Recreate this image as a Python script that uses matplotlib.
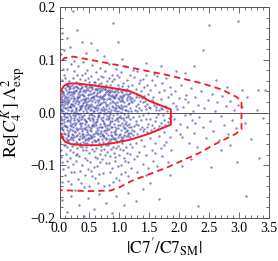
import matplotlib
matplotlib.use("Agg")
import matplotlib.pyplot as plt
from matplotlib.ticker import MultipleLocator, FuncFormatter

# ---- scan points (x = |C7'/C7_SM|, y = Re[C4^K] Lambda^2) ----
core_pts = [
    (0.01, 0.012), (0.03, -0.021), (0.05, 0.004), (0.07, 0.026), (0.02, -0.038), (0.08, -0.012), (0.04, 0.019),
    (0.06, -0.033), (0.09, 0.008), (0.01, -0.006), (0.03, 0.027), (0.05, -0.044), (0.07, -0.002), (0.02, 0.015),
    (0.08, 0.033), (0.04, -0.027), (0.06, 0.011), (0.09, -0.041), (0.01, 0.024), (0.03, -0.009), (0.05, 0.031),
    (0.07, -0.018), (0.02, 0.002), (0.08, 0.021), (0.04, -0.015), (0.06, 0.037), (0.09, -0.025), (0.02, -0.029),
    (0.05, 0.017), (0.08, -0.006), (0.03, 0.006), (0.06, -0.047), (0.09, 0.029), (0.04, 0.041), (0.07, 0.014),
    (0.11, 0.042), (0.13, -0.017), (0.15, 0.005), (0.17, -0.051), (0.19, 0.028), (0.12, -0.034), (0.14, 0.019),
    (0.16, -0.003), (0.18, 0.047), (0.11, -0.026), (0.13, 0.035), (0.15, -0.044), (0.17, 0.012), (0.19, -0.011),
    (0.12, 0.051), (0.14, -0.056), (0.16, 0.024), (0.18, -0.031), (0.11, 0.008), (0.13, -0.008), (0.15, 0.039),
    (0.17, -0.023), (0.19, 0.003), (0.12, 0.016), (0.14, -0.039), (0.16, 0.044), (0.18, 0.010), (0.11, -0.048),
    (0.13, 0.026), (0.15, -0.014), (0.17, 0.033), (0.19, -0.046), (0.12, -0.001), (0.14, 0.029), (0.16, -0.035),
    (0.18, -0.018), (0.13, 0.053), (0.15, 0.020), (0.17, -0.006), (0.19, 0.038),
    (0.21, -0.022), (0.23, 0.031), (0.25, -0.047), (0.27, 0.009), (0.29, -0.012), (0.22, 0.046), (0.24, -0.036),
    (0.26, 0.018), (0.28, -0.055), (0.21, 0.004), (0.23, -0.028), (0.25, 0.040), (0.27, -0.019), (0.29, 0.025),
    (0.22, -0.042), (0.24, 0.013), (0.26, -0.007), (0.28, 0.051), (0.21, 0.035), (0.23, -0.053), (0.25, 0.001),
    (0.27, 0.043), (0.29, -0.033), (0.22, 0.021), (0.24, -0.015), (0.26, -0.059), (0.28, 0.007), (0.21, -0.040),
    (0.23, 0.015), (0.25, 0.027), (0.27, -0.030), (0.29, 0.048), (0.22, -0.004), (0.24, 0.037), (0.26, -0.024),
    (0.28, -0.045), (0.21, 0.052), (0.25, -0.010), (0.27, 0.022), (0.29, 0.000),
    (0.31, 0.017), (0.33, -0.038), (0.35, 0.041), (0.37, -0.009), (0.39, 0.026), (0.32, -0.050), (0.34, 0.006),
    (0.36, -0.026), (0.38, 0.049), (0.31, -0.017), (0.33, 0.030), (0.35, -0.057), (0.37, 0.014), (0.39, -0.041),
    (0.32, 0.038), (0.34, -0.003), (0.36, 0.023), (0.38, -0.031), (0.31, 0.046), (0.33, -0.014), (0.35, 0.010),
    (0.37, -0.048), (0.39, 0.002), (0.32, 0.019), (0.34, -0.045), (0.36, 0.052), (0.38, -0.020), (0.31, -0.032),
    (0.33, 0.004), (0.35, -0.022), (0.37, 0.035), (0.39, -0.055), (0.32, -0.008), (0.34, 0.044), (0.36, -0.013),
    (0.38, 0.012), (0.31, 0.029), (0.35, 0.033), (0.37, -0.036), (0.39, 0.018),
    (0.41, -0.005), (0.43, 0.039), (0.45, -0.043), (0.47, 0.011), (0.49, -0.027), (0.42, 0.024), (0.44, -0.018),
    (0.46, 0.047), (0.48, -0.052), (0.41, 0.032), (0.43, -0.031), (0.45, 0.005), (0.47, -0.011), (0.49, 0.036),
    (0.42, -0.058), (0.44, 0.015), (0.46, -0.037), (0.48, 0.021), (0.41, -0.046), (0.43, 0.008), (0.45, 0.028),
    (0.47, -0.024), (0.49, 0.049), (0.42, -0.014), (0.44, 0.042), (0.46, 0.001), (0.48, -0.040), (0.41, 0.019),
    (0.43, -0.053), (0.45, -0.016), (0.47, 0.034), (0.49, -0.004), (0.42, 0.051), (0.44, -0.028), (0.46, 0.017),
    (0.48, 0.009), (0.43, 0.026), (0.47, -0.049),
    (0.51, 0.013), (0.53, -0.035), (0.55, 0.044), (0.57, -0.007), (0.59, 0.020), (0.52, -0.049), (0.54, 0.030),
    (0.56, -0.021), (0.58, 0.002), (0.51, -0.015), (0.53, 0.048), (0.55, -0.056), (0.57, 0.025), (0.59, -0.038),
    (0.52, 0.007), (0.54, -0.010), (0.56, 0.037), (0.58, -0.044), (0.51, 0.040), (0.53, 0.016), (0.55, -0.026),
    (0.57, -0.052), (0.59, 0.045), (0.52, -0.030), (0.54, 0.022), (0.56, 0.003), (0.58, 0.031), (0.51, -0.042),
    (0.53, -0.002), (0.55, 0.012), (0.57, 0.039), (0.59, -0.019), (0.52, 0.027), (0.54, -0.047), (0.56, -0.012),
    (0.58, -0.025),
    (0.61, 0.034), (0.63, -0.016), (0.65, 0.009), (0.67, -0.045), (0.69, 0.027), (0.62, -0.029), (0.64, 0.046),
    (0.66, -0.004), (0.68, 0.016), (0.61, -0.054), (0.63, 0.023), (0.65, -0.033), (0.67, 0.041), (0.69, -0.010),
    (0.62, 0.004), (0.64, -0.041), (0.66, 0.029), (0.68, -0.021), (0.61, 0.011), (0.63, 0.043), (0.65, -0.050),
    (0.67, 0.001), (0.69, -0.036), (0.62, 0.037), (0.64, -0.008), (0.66, -0.058), (0.68, 0.044), (0.61, -0.023),
    (0.63, -0.039), (0.65, 0.019), (0.67, 0.031), (0.69, 0.006), (0.62, -0.013), (0.66, 0.014),
    (0.71, -0.028), (0.73, 0.020), (0.75, -0.047), (0.77, 0.038), (0.79, -0.006), (0.72, 0.010), (0.74, -0.019),
    (0.76, 0.045), (0.78, -0.039), (0.71, 0.030), (0.73, -0.055), (0.75, 0.003), (0.77, -0.013), (0.79, 0.025),
    (0.72, -0.043), (0.74, 0.034), (0.76, -0.025), (0.78, 0.013), (0.71, 0.042), (0.73, -0.009), (0.75, 0.026),
    (0.77, -0.051), (0.79, 0.040), (0.72, -0.016), (0.74, 0.006), (0.76, -0.034), (0.78, -0.001), (0.71, -0.040),
    (0.73, 0.032), (0.75, -0.022), (0.77, 0.017), (0.79, -0.030),
    (0.81, 0.015), (0.83, -0.032), (0.85, 0.039), (0.87, -0.011), (0.89, -0.049), (0.82, 0.027), (0.84, -0.020),
    (0.86, 0.004), (0.88, 0.033), (0.81, -0.042), (0.83, 0.009), (0.85, -0.054), (0.87, 0.022), (0.89, 0.010),
    (0.82, -0.006), (0.84, 0.043), (0.86, -0.037), (0.88, -0.017), (0.81, 0.036), (0.83, -0.024), (0.85, 0.018),
    (0.87, -0.045), (0.89, 0.029), (0.82, -0.050), (0.84, 0.001), (0.86, 0.031), (0.88, -0.028), (0.81, -0.013),
    (0.85, -0.003), (0.87, 0.041),
    (0.91, -0.021), (0.93, 0.030), (0.95, -0.040), (0.97, 0.012), (0.99, -0.008), (0.92, 0.041), (0.94, -0.052),
    (0.96, 0.020), (0.98, -0.030), (0.91, 0.005), (0.93, -0.015), (0.95, 0.036), (0.97, -0.046), (0.99, 0.025),
    (0.92, -0.035), (0.94, 0.008), (0.96, -0.003), (0.98, 0.039), (0.91, 0.027), (0.93, -0.048), (0.95, 0.015),
    (0.97, -0.024), (0.99, -0.042), (0.92, 0.018), (0.94, 0.034), (0.96, -0.012), (0.98, 0.002), (0.91, -0.037),
    (1.01, 0.022), (1.03, -0.034), (1.05, 0.007), (1.07, -0.014), (1.09, 0.035), (1.02, -0.046), (1.04, 0.028),
    (1.06, -0.025), (1.08, 0.013), (1.01, -0.006), (1.03, 0.040), (1.05, -0.050), (1.07, 0.019), (1.09, -0.037),
    (1.02, 0.001), (1.04, -0.019), (1.06, 0.032), (1.08, -0.043), (1.01, 0.031), (1.03, -0.011), (1.05, 0.024),
    (1.07, -0.029), (1.09, 0.004), (1.04, 0.011),
    (1.11, -0.018), (1.13, 0.027), (1.15, -0.041), (1.17, 0.009), (1.19, -0.027), (1.12, 0.036), (1.14, -0.005),
    (1.16, 0.018), (1.18, -0.047), (1.11, 0.012), (1.13, -0.033), (1.15, 0.031), (1.17, -0.013), (1.19, 0.022),
    (1.12, -0.024), (1.14, 0.003), (1.16, -0.038), (1.18, 0.030), (1.11, -0.044), (1.15, -0.009),
    (1.21, 0.019), (1.24, -0.026), (1.27, 0.030), (1.30, -0.040), (1.33, 0.008), (1.22, -0.009), (1.25, 0.024),
    (1.28, -0.017), (1.31, 0.016), (1.34, -0.031), (1.23, -0.043), (1.26, 0.005), (1.29, 0.034), (1.32, -0.006),
    (1.21, -0.033), (1.27, -0.021), (1.30, 0.002), (1.34, 0.021),
    (1.36, -0.014), (1.39, 0.020), (1.42, -0.032), (1.45, 0.006), (1.48, -0.021), (1.37, 0.027), (1.40, -0.004),
    (1.43, 0.013), (1.46, -0.037), (1.49, 0.010), (1.38, -0.027), (1.41, 0.031), (1.44, -0.012), (1.47, 0.017),
    (1.52, 0.008), (1.55, -0.023), (1.58, 0.015), (1.61, -0.009), (1.64, -0.031), (1.67, 0.004), (1.53, -0.034),
    (1.56, 0.019), (1.59, -0.016), (1.62, 0.010), (1.65, -0.002), (1.69, -0.019),
    (1.71, 0.006), (1.74, -0.014), (1.77, -0.024), (1.80, 0.002), (1.83, -0.010), (1.72, -0.028), (1.78, 0.011),
    (1.86, -0.006),
]

core_pts_2 = [
    (0.005, -0.018), (0.025, 0.036), (0.045, -0.031), (0.065, 0.003), (0.085, 0.047), (0.105, -0.009),
    (0.125, -0.052), (0.145, 0.011), (0.165, 0.038), (0.185, -0.025), (0.205, 0.017), (0.225, -0.060),
    (0.245, 0.049), (0.265, -0.037), (0.285, 0.030), (0.305, -0.003), (0.325, 0.054), (0.345, -0.029),
    (0.365, 0.008), (0.385, -0.044), (0.405, 0.043), (0.425, -0.021), (0.445, 0.020), (0.465, -0.057),
    (0.485, 0.014), (0.505, -0.033), (0.525, 0.036), (0.545, -0.005), (0.565, -0.041), (0.585, 0.052),
    (0.605, -0.018), (0.625, 0.015), (0.645, -0.053), (0.665, 0.039), (0.685, -0.027), (0.705, 0.005),
    (0.725, 0.047), (0.745, -0.035), (0.765, 0.019), (0.785, -0.048), (0.805, 0.042), (0.825, -0.010),
    (0.845, 0.025), (0.865, -0.027), (0.885, 0.046), (0.905, -0.050), (0.925, 0.009), (0.945, -0.031),
    (0.965, 0.043), (0.985, -0.017), (1.005, -0.040), (1.025, 0.015), (1.045, 0.038), (1.065, -0.047),
    (1.085, -0.002), (1.105, 0.040), (1.125, -0.036), (1.145, 0.016), (1.165, -0.022), (1.185, 0.037),
    (0.015, 0.008), (0.035, -0.046), (0.055, 0.039), (0.075, -0.024), (0.095, 0.018), (0.115, 0.030),
    (0.135, -0.043), (0.155, 0.048), (0.175, -0.015), (0.195, 0.010), (0.215, -0.049), (0.235, 0.026),
    (0.255, -0.002), (0.275, 0.041), (0.295, -0.058), (0.315, 0.022), (0.335, -0.019), (0.355, 0.047),
    (0.375, -0.040), (0.395, 0.033), (0.415, -0.012), (0.435, 0.050), (0.455, -0.034), (0.475, 0.027),
    (0.495, -0.048), (0.515, 0.005), (0.535, -0.024), (0.555, 0.029), (0.575, 0.010), (0.595, -0.054),
    (0.615, 0.044), (0.635, -0.006), (0.655, 0.024), (0.675, -0.039), (0.695, 0.048), (0.715, -0.014),
    (0.735, -0.044), (0.755, 0.036), (0.775, 0.006), (0.795, -0.023), (0.815, -0.055), (0.835, 0.033),
    (0.855, -0.042), (0.875, 0.013), (0.895, -0.004), (0.915, 0.038), (0.935, -0.027), (0.955, -0.055),
    (0.975, 0.028), (0.995, 0.011), (1.015, -0.023), (1.035, 0.030), (1.055, -0.011), (1.075, 0.043),
    (1.095, -0.030), (1.115, 0.004), (1.135, 0.045), (1.155, -0.028), (1.175, 0.026), (1.195, -0.039),
    (0.008, 0.030), (0.028, -0.012), (0.048, 0.023), (0.068, -0.039), (0.088, 0.000), (0.108, 0.021),
    (0.128, -0.027), (0.148, -0.053), (0.168, 0.050), (0.188, 0.016), (0.208, -0.034), (0.228, 0.039),
    (0.248, -0.020), (0.268, 0.002), (0.288, -0.042), (0.308, 0.035), (0.328, -0.050), (0.348, 0.013),
    (0.368, -0.006), (0.388, 0.040), (0.408, -0.030), (0.428, 0.012), (0.448, -0.050), (0.468, 0.043),
    (0.488, -0.011), (0.508, 0.024), (0.528, -0.045), (0.548, 0.049), (0.568, -0.016), (0.588, 0.008),
    (0.608, -0.035), (0.628, 0.031), (0.648, -0.001), (0.668, -0.028), (0.688, 0.018), (0.708, -0.051),
    (0.728, 0.026), (0.748, -0.003), (0.768, 0.044), (0.788, -0.033), (0.808, 0.002), (0.828, 0.038),
    (0.848, -0.016), (0.868, -0.050), (0.888, 0.020), (0.908, 0.032), (0.928, -0.040), (0.948, 0.003),
    (0.968, -0.010), (0.988, 0.046), (1.008, 0.009), (1.028, -0.053), (1.048, 0.021), (1.068, 0.033),
    (1.088, -0.021), (1.108, -0.008), (1.128, 0.024), (1.148, -0.045), (1.168, 0.035), (1.188, 0.002),
    (1.215, 0.028), (1.245, -0.036), (1.275, 0.012), (1.305, -0.024), (1.335, 0.029), (1.365, 0.004),
    (1.395, -0.035), (1.425, 0.022), (1.455, -0.027), (1.485, 0.000), (1.515, -0.013), (1.545, 0.023),
    (1.575, -0.029), (1.605, 0.004), (1.635, 0.016), (1.665, -0.025), (1.695, 0.009), (1.725, -0.004),
    (1.755, 0.012), (1.815, -0.018),
]

halo_pts = [
    (0.02, 0.045), (0.05, 0.062), (0.08, 0.071), (0.12, 0.083), (0.16, 0.059), (0.19, 0.092), (0.22, 0.066),
    (0.25, 0.078), (0.28, 0.058), (0.31, 0.088), (0.34, 0.064), (0.37, 0.072), (0.40, 0.095), (0.43, 0.061),
    (0.46, 0.081), (0.49, 0.058), (0.52, 0.069), (0.55, 0.090), (0.58, 0.057), (0.61, 0.076), (0.64, 0.063),
    (0.67, 0.085), (0.70, 0.055), (0.73, 0.068), (0.76, 0.079), (0.79, 0.060), (0.82, 0.091), (0.85, 0.053),
    (0.88, 0.072), (0.91, 0.064), (0.94, 0.083), (0.97, 0.052), (1.00, 0.067), (1.03, 0.076), (1.06, 0.056),
    (1.09, 0.088), (1.12, 0.061), (1.15, 0.050), (1.18, 0.071), (0.06, 0.083), (0.14, 0.053), (0.24, 0.097),
    (0.33, 0.054), (0.42, 0.074), (0.51, 0.052), (0.60, 0.058), (0.69, 0.070), (0.78, 0.052), (0.87, 0.060),
    (0.96, 0.071), (1.04, 0.050), (0.10, 0.066), (0.29, 0.072), (0.47, 0.066), (0.66, 0.054), (0.83, 0.066),
    (0.01, -0.055), (0.03, -0.072), (0.05, -0.094), (0.07, -0.061), (0.09, -0.118), (0.11, -0.079), (0.13, -0.066),
    (0.15, -0.103), (0.17, -0.087), (0.19, -0.135), (0.21, -0.064), (0.23, -0.075), (0.25, -0.112), (0.27, -0.091),
    (0.29, -0.068), (0.31, -0.127), (0.33, -0.082), (0.35, -0.063), (0.37, -0.099), (0.39, -0.071), (0.41, -0.142),
    (0.43, -0.086), (0.45, -0.065), (0.47, -0.108), (0.49, -0.077), (0.51, -0.093), (0.53, -0.062), (0.55, -0.121),
    (0.57, -0.073), (0.59, -0.084), (0.61, -0.067), (0.63, -0.101), (0.65, -0.133), (0.67, -0.078), (0.69, -0.063),
    (0.71, -0.089), (0.73, -0.115), (0.75, -0.069), (0.77, -0.096), (0.79, -0.074), (0.81, -0.061), (0.83, -0.138),
    (0.85, -0.083), (0.87, -0.106), (0.89, -0.066), (0.91, -0.076), (0.93, -0.092), (0.95, -0.124), (0.97, -0.064),
    (0.99, -0.081), (1.01, -0.070), (1.03, -0.099), (1.05, -0.058), (1.07, -0.087), (1.09, -0.113), (1.11, -0.065),
    (1.13, -0.076), (1.15, -0.094), (1.17, -0.060), (1.19, -0.105), (0.02, -0.085), (0.06, -0.107), (0.10, -0.062),
    (0.14, -0.129), (0.18, -0.071), (0.22, -0.097), (0.26, -0.146), (0.30, -0.079), (0.34, -0.110), (0.38, -0.066),
    (0.42, -0.118), (0.46, -0.090), (0.50, -0.139), (0.54, -0.069), (0.58, -0.104), (0.62, -0.087), (0.66, -0.117),
    (0.70, -0.072), (0.74, -0.140), (0.78, -0.062), (0.82, -0.095), (0.86, -0.070), (0.90, -0.131), (0.94, -0.068),
    (0.98, -0.102), (1.02, -0.117), (1.06, -0.072), (1.10, -0.091), (1.14, -0.121), (1.18, -0.079), (0.04, -0.131),
    (0.12, -0.091), (0.20, -0.112), (0.28, -0.081), (0.36, -0.134), (0.44, -0.072), (0.52, -0.111), (0.60, -0.125),
    (0.68, -0.094), (0.76, -0.081), (0.84, -0.112), (0.92, -0.085), (1.00, -0.128),
    (1.21, 0.052), (1.24, 0.067), (1.27, 0.044), (1.30, 0.078), (1.33, 0.056), (1.36, 0.040), (1.39, 0.063),
    (1.42, 0.049), (1.45, 0.072), (1.48, 0.035), (1.23, 0.081), (1.35, 0.061), (1.46, 0.053),
    (1.51, 0.043), (1.54, 0.061), (1.57, 0.030), (1.60, 0.052), (1.63, 0.070), (1.66, 0.038), (1.69, 0.025),
    (1.72, 0.055), (1.75, 0.042), (1.78, 0.065), (1.81, 0.029), (1.84, 0.048), (1.87, 0.036), (1.58, 0.073),
    (1.89, 0.018), (1.91, -0.012), (1.93, 0.041), (1.95, -0.034), (1.97, 0.006), (1.99, 0.027), (2.01, -0.021),
    (2.03, 0.052), (2.05, -0.046), (2.07, 0.011), (2.09, -0.005), (2.11, 0.034), (2.13, -0.028), (2.15, 0.020),
    (2.17, -0.057), (2.19, 0.046), (2.21, -0.014), (2.23, 0.003), (2.25, -0.038), (2.27, 0.029), (2.29, -0.065),
    (2.31, 0.015), (2.33, -0.009), (2.36, 0.041), (2.39, -0.027), (2.42, 0.008), (2.45, -0.049), (2.48, 0.024),
    (2.51, -0.016), (2.54, 0.036), (2.57, -0.035), (2.60, 0.002), (2.63, 0.019), (2.66, -0.052), (2.69, -0.007),
    (2.72, 0.031), (2.75, -0.024), (2.78, 0.012), (2.81, -0.041), (2.85, 0.022), (2.88, -0.015), (2.92, 0.005),
    (2.95, -0.030), (2.98, 0.014), (1.94, 0.012), (2.02, -0.040), (2.10, 0.025), (2.18, -0.002), (2.26, -0.020),
    (1.21, -0.066), (1.24, -0.089), (1.27, -0.058), (1.30, -0.112), (1.33, -0.074), (1.36, -0.052), (1.39, -0.097),
    (1.42, -0.063), (1.45, -0.081), (1.48, -0.105), (1.51, -0.049), (1.54, -0.072), (1.57, -0.091), (1.60, -0.058),
    (1.63, -0.101), (1.66, -0.044), (1.69, -0.068), (1.72, -0.083), (1.75, -0.037), (1.78, -0.056), (1.81, -0.094),
    (1.84, -0.047), (1.87, -0.072), (1.29, -0.083), (1.44, -0.118), (1.59, -0.077), (1.74, -0.061),
]

outer_pts = [
    (0.05, 0.151), (0.30, 0.157), (0.23, 0.192), (0.90, 0.170), (0.97, 0.134), (0.38, 0.134), (0.53, 0.131),
    (0.18, 0.125), (0.02, 0.110), (0.12, 0.142), (0.62, 0.118), (0.75, 0.108), (0.44, 0.112), (1.05, 0.101),
    (0.08, 0.119), (1.45, 0.093), (1.70, 0.088), (2.10, 0.074), (2.49, 0.166), (2.99, 0.174), (2.39, 0.119),
    (2.62, 0.062), (2.80, 0.049), (3.05, 0.042), (3.31, 0.042), (3.43, 0.043), (3.14, 0.030), (2.25, 0.088),
    (1.95, 0.079), (1.66, -0.164), (2.31, -0.177), (3.11, -0.158), (2.97, -0.094), (3.33, -0.087), (2.53, -0.104),
    (0.05, -0.165), (0.12, -0.188), (0.20, -0.158), (0.33, -0.175), (0.41, -0.196), (0.48, -0.162), (0.57, -0.183),
    (0.66, -0.155), (0.78, -0.172), (0.88, -0.191), (0.95, -0.159), (1.08, -0.176), (1.15, -0.152), (1.28, -0.168),
    (1.40, -0.145), (1.52, -0.133), (1.85, -0.118), (2.05, -0.101), (2.20, -0.089), (2.70, -0.072), (2.85, -0.061),
    (3.20, -0.050), (3.10, -0.020), (3.30, 0.005), (3.40, -0.010), (3.05, 0.010),
]

# contour lines
solid_x = [0.0, 0.03, 0.08, 0.15, 0.30, 0.60, 0.90, 1.16, 1.35, 1.50, 1.70, 1.86,
           1.86, 1.65, 1.50, 1.20, 0.90, 0.65, 0.40, 0.20, 0.10, 0.04, 0.0, -0.02, -0.02, 0.0]
solid_y = [0.030, 0.043, 0.051, 0.055, 0.055, 0.051, 0.046, 0.041, 0.032, 0.022, 0.013, 0.006,
           -0.023, -0.033, -0.040, -0.051, -0.058, -0.062, -0.062, -0.060, -0.056, -0.048, -0.035, -0.015, 0.010, 0.030]
dash_x = [-0.02, 0.02, 0.08, 0.23, 0.60, 1.19, 1.80, 2.36, 2.70, 2.95, 3.02, 3.04,
          3.04, 2.95, 2.60, 2.33, 1.80, 1.20, 1.00, 0.85, 0.50, 0.20, -0.02]
dash_y = [0.080, 0.095, 0.103, 0.106, 0.098, 0.085, 0.071, 0.056, 0.044, 0.030, 0.024, 0.018,
          -0.032, -0.040, -0.060, -0.077, -0.104, -0.130, -0.142, -0.148, -0.149, -0.148, -0.147]

plt.rcParams["font.family"] = ["Liberation Serif", "DejaVu Serif"]
plt.rcParams["mathtext.fontset"] = "stix"

fig = plt.figure(figsize=(2.78, 2.61), dpi=100)
ax = fig.add_axes([59.5 / 278, 43 / 261, 209.5 / 278, 211 / 261])

pts = core_pts + core_pts_2 + halo_pts + outer_pts
ax.scatter([p[0] for p in pts], [p[1] for p in pts], s=3.0, color="#3c3ca6",
           alpha=0.62, linewidths=0, zorder=2)
ax.axhline(0, color="#555555", lw=0.7, zorder=1)
ax.plot(solid_x, solid_y, color="#ee1c25", lw=1.4, zorder=3)
ax.plot(dash_x, dash_y, color="#ee1c25", lw=1.3, ls=(0, (3.5, 2.3)), zorder=3)

ax.set_xlim(0, 3.5)
ax.set_ylim(-0.2, 0.2)
ax.xaxis.set_major_locator(MultipleLocator(0.5))
ax.xaxis.set_minor_locator(MultipleLocator(0.1))
ax.yaxis.set_major_locator(MultipleLocator(0.1))
ax.yaxis.set_minor_locator(MultipleLocator(0.02))
fmt = FuncFormatter(lambda v, _: ("%.1f" % v).replace("-", "\u2212"))
ax.xaxis.set_major_formatter(fmt)
ax.yaxis.set_major_formatter(fmt)
ax.tick_params(which="both", direction="in", top=True, right=True, color="#555555",
               width=0.6, labelsize=10, pad=3)
ax.tick_params(which="major", length=4)
ax.tick_params(which="minor", length=2)
for s in ax.spines.values():
    s.set_color("#555555")
    s.set_linewidth(0.7)

ax.set_xlabel(r"$|\mathrm{C7}'/\mathrm{C7}_{\mathrm{SM}}|$", fontsize=12.5, labelpad=1)
ax.set_ylabel(r"$\mathrm{Re}[C_4^K]\;\Lambda^2_{\mathrm{exp}}$", fontsize=13, labelpad=2)

fig.savefig("out.png", dpi=100)
